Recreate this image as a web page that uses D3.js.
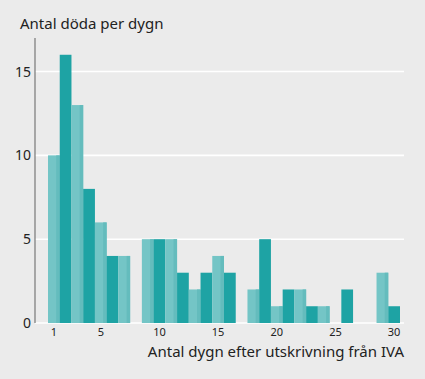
<!DOCTYPE html>
<html>
<head>
<meta charset="utf-8">
<script src="https://cdn.jsdelivr.net/npm/d3@7"></script>
<style>
  body { margin: 0; background: #ebebeb; }
  svg { display: block; }
  text { font-family: "Noto Sans", sans-serif; fill: #222; }
</style>
</head>
<body>
<div id="chart"></div>
<script>
// antal döda per dygn efter utskrivning, dag 1..30
var days = d3.range(1, 31);
var deaths = [10, 16, 13, 8, 6, 4, 4, 0, 5, 5, 5, 3, 2, 3, 4, 3, 0, 2, 5, 1, 2, 2, 1, 1, 0, 2, 0, 0, 3, 1];
// dygn som ritas i mörkare ton
var darkDays = [2, 4, 6, 10, 12, 14, 16, 19, 21, 23, 26, 30];
var yTicks = [0, 5, 10, 15];
var xTicks = [1, 5, 10, 15, 20, 25, 30];
var yTitle = "Antal döda per dygn";
var xTitle = "Antal dygn efter utskrivning från IVA";

var width = 425, height = 379;
var svg = d3.select("#chart").append("svg")
  .attr("width", width)
  .attr("height", height);

svg.append("rect").attr("width", width).attr("height", height).attr("fill", "#ebebeb");

var axisX = 35, plotRight = 404;

var x = d3.scaleBand()
  .domain(days)
  .range([48, 400])
  .paddingInner(0);

var y = d3.scaleLinear()
  .domain([0, 17])
  .range([323, 38]);

// rutnät
svg.append("g")
  .selectAll("line")
  .data(yTicks)
  .enter().append("line")
  .attr("x1", axisX)
  .attr("x2", plotRight)
  .attr("y1", function(d) { return y(d); })
  .attr("y2", function(d) { return y(d); })
  .style("stroke", "#fff")
  .style("stroke-width", 1.6);

// staplar
var bars = svg.append("g")
  .selectAll("g")
  .data(days.filter(function(d, i) { return deaths[i] > 0; }))
  .enter().append("g");

bars.append("rect")
  .attr("x", function(d) { return x(d); })
  .attr("width", x.bandwidth())
  .attr("y", function(d) { return y(deaths[d - 1]); })
  .attr("height", function(d) { return y(0) - y(deaths[d - 1]); })
  .style("fill", function(d) {
    return darkDays.indexOf(d) >= 0 ? "#1ea3a4" : "#74c5c6";
  });

// lite mörkare kant på de ljusa staplarna
bars.filter(function(d) { return darkDays.indexOf(d) < 0; })
  .append("rect")
  .attr("x", function(d) { return x(d) + x.bandwidth() * 0.7; })
  .attr("width", x.bandwidth() * 0.3)
  .attr("y", function(d) { return y(deaths[d - 1]); })
  .attr("height", function(d) { return y(0) - y(deaths[d - 1]); })
  .style("fill", "#64bcbd");

// y-axel
svg.append("line")
  .attr("x1", axisX).attr("x2", axisX)
  .attr("y1", y(17)).attr("y2", y(0))
  .style("stroke", "#777")
  .style("stroke-width", 1.2);

svg.append("g")
  .selectAll("text")
  .data(yTicks)
  .enter().append("text")
  .attr("x", 31)
  .attr("y", function(d) { return y(d) + 5; })
  .attr("text-anchor", "end")
  .style("font-size", "14px")
  .text(function(d) { return d; });

// x-axel etiketter
svg.append("g")
  .selectAll("text")
  .data(xTicks)
  .enter().append("text")
  .attr("x", function(d) { return x(d) + x.bandwidth() / 2; })
  .attr("y", 336)
  .attr("text-anchor", "middle")
  .style("font-size", "11px")
  .text(function(d) { return d; });

svg.append("text")
  .attr("x", 20)
  .attr("y", 29)
  .style("font-size", "15px")
  .text(yTitle);

svg.append("text")
  .attr("x", 404)
  .attr("y", 357)
  .attr("text-anchor", "end")
  .style("font-size", "15px")
  .text(xTitle);
</script>
</body>
</html>
